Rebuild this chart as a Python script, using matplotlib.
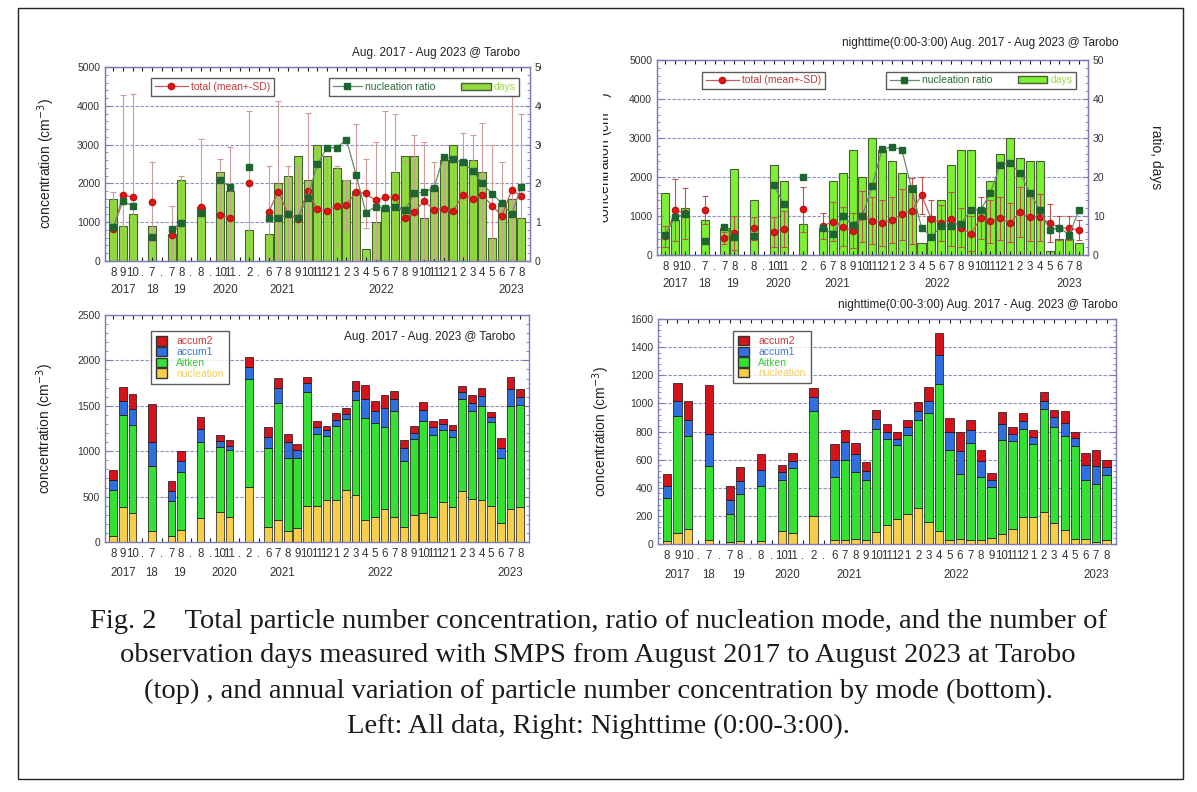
import matplotlib.pyplot as plt
import numpy as np
from matplotlib.patches import Rectangle, Patch
from matplotlib.lines import Line2D
from matplotlib.ticker import MultipleLocator, AutoMinorLocator

plt.rcParams['font.family'] = ['Liberation Sans', 'DejaVu Sans']

nan = np.nan

# x axis: one slot per month, '.' = gap in the record
months = ['8', '9', '10', '.', '7', '.', '7', '8', '.', '8', '.', '10', '11', '.', '2', '.',
          '6', '7', '8', '9', '10', '11', '12', '1', '2', '3', '4', '5', '6', '7', '8', '9', '10', '11', '12',
          '1', '2', '3', '4', '5', '6', '7', '8']
years = ['2017', '18', '19', '2020', '2021', '2022', '2023']
year_slot = [1, 4, 6.8, 11.5, 17.4, 27.6, 41]

# top panels : observation days, nucleation ratio (%), total mean and SD (cm-3)
days_all = [16, 9, 12, nan, 9, nan, 7, 21, nan, 14, nan, 23, 18, nan, 8, nan,
            7, 20, 22, 27, 21, 30, 27, 24, 21, 18, 3, 10, 14, 23, 27, 27, 11, 19, 26, 30, 26, 26, 23, 6, 15, 16, 11]
days_night = [16, 9, 12, nan, 9, nan, 7, 22, nan, 14, nan, 23, 19, nan, 8, nan,
              7, 19, 21, 27, 20, 30, 27, 24, 21, 18, 3, 10, 14, 23, 27, 27, 12, 19, 26, 30, 25, 24, 24, 1, 4, 4, 3]
ratio_all = [8.7, 15.4, 14.2, nan, 6.2, nan, 8.2, 9.8, nan, 12.3, nan, 20.8, 19.2, nan, 24.2, nan,
             11.1, 11.1, 12.0, 11.2, 16.2, 24.9, 29.2, 29.2, 31.3, 22.2, 12.5, 14.0, 13.7, 14.0, 13.1,
             17.4, 17.8, 18.8, 26.8, 26.2, 25.4, 23.2, 20.0, 17.3, 14.9, 12.0, 19.2]
ratio_night = [5.2, 9.7, 10.5, nan, 3.5, nan, 7.1, 4.6, nan, 4.9, nan, 17.9, 13.2, nan, 20.0, nan,
               6.9, 5.3, 9.9, 7.7, 10.1, 17.7, 27.2, 27.7, 27.0, 17.0, 7.0, 4.6, 7.5, 7.4, 8.0,
               11.6, 11.5, 16.0, 23.2, 23.5, 21.0, 16.0, 11.6, 6.4, 7.0, 5.2, 11.6]
mean_all = [820, 1710, 1640, nan, 1530, nan, 680, 990, nan, 1390, nan, 1180, 1120, nan, 2020, nan,
            1270, 1790, 1210, 1080, 1810, 1330, 1280, 1430, 1450, 1780, 1740, 1560, 1640, 1650, 1120,
            1260, 1550, 1320, 1350, 1290, 1710, 1600, 1690, 1430, 1160, 1820, 1680]
sd_all = [960, 2570, 2670, nan, 1010, nan, 740, 1210, nan, 1760, nan, 1450, 1820, nan, 1850, nan,
          1170, 2330, 1250, 1370, 2010, 1570, 1400, 1020, 650, 1760, 890, 1510, 2230, 2130, 1480,
          1990, 1510, 1240, 1250, 1410, 1590, 1660, 1860, 1570, 1400, 2430, 2110]
mean_night = [480, 1150, 1070, nan, 1150, nan, 430, 570, nan, 680, nan, 590, 670, nan, 1170, nan,
              750, 850, 730, 620, 990, 880, 820, 900, 1040, 1130, 1530, 930, 820, 920, 700,
              540, 950, 860, 940, 830, 1100, 970, 970, 820, 690, 690, 640]
sd_night = [270, 790, 650, nan, 360, nan, 150, 430, nan, 300, nan, 380, 460, nan, 570, nan,
            330, 500, 500, 450, 650, 600, 600, 600, 650, 850, 470, 470, 450, 700, 500,
            450, 550, 550, 550, 500, 650, 600, 600, 480, 300, 310, 250]

# bottom panels : concentration by mode (cm-3)
nuc_all = [70, 380, 320, nan, 120, nan, 70, 130, nan, 260, nan, 330, 280, nan, 610, nan,
           160, 240, 120, 150, 400, 400, 460, 460, 570, 520, 240, 270, 360, 270, 160,
           300, 320, 270, 440, 390, 560, 470, 460, 400, 210, 360, 380]
aitken_all = [500, 1020, 970, nan, 720, nan, 380, 640, nan, 840, nan, 720, 730, nan, 1190, nan,
              880, 1290, 810, 770, 1250, 790, 710, 820, 780, 1040, 1130, 1040, 910, 1170, 730,
              830, 1010, 910, 790, 770, 1010, 970, 1040, 920, 710, 1140, 1130]
acc1_all = [110, 150, 170, nan, 260, nan, 110, 120, nan, 150, nan, 60, 50, nan, 130, nan,
            120, 170, 170, 90, 100, 80, 60, 60, 60, 100, 200, 130, 210, 130, 140,
            70, 120, 90, 70, 70, 80, 90, 110, 60, 120, 180, 90]
acc2_all = [110, 160, 170, nan, 420, nan, 110, 110, nan, 130, nan, 70, 60, nan, 110, nan,
            110, 110, 90, 70, 70, 60, 50, 80, 70, 110, 160, 110, 140, 90, 90,
            80, 90, 60, 60, 60, 70, 90, 90, 50, 110, 140, 80]
nuc_night = [20, 80, 105, nan, 30, nan, 15, 20, nan, 20, nan, 95, 80, nan, 200, nan,
             30, 30, 35, 30, 85, 135, 180, 215, 255, 155, 95, 30, 35, 30, 30,
             45, 70, 105, 195, 190, 230, 150, 100, 35, 35, 15, 30]
aitken_night = [310, 830, 660, nan, 525, nan, 200, 335, nan, 390, nan, 360, 460, nan, 745, nan,
                450, 570, 480, 425, 730, 610, 525, 560, 625, 775, 1045, 640, 465, 685, 450,
                360, 670, 625, 620, 520, 730, 680, 665, 665, 420, 415, 460]
acc1_night = [85, 110, 120, nan, 225, nan, 95, 95, nan, 115, nan, 55, 50, nan, 100, nan,
              120, 125, 125, 65, 75, 55, 45, 55, 65, 90, 205, 130, 160, 95, 110,
              50, 110, 50, 60, 50, 60, 70, 95, 55, 105, 125, 60]
acc2_night = [80, 125, 135, nan, 350, nan, 100, 95, nan, 115, nan, 50, 55, nan, 65, nan,
              110, 85, 80, 60, 65, 55, 45, 50, 65, 95, 155, 95, 135, 75, 80,
              50, 90, 55, 55, 50, 60, 55, 85, 40, 90, 110, 50]

W, H = 1197, 792
fig = plt.figure(figsize=(W / 100, H / 100), dpi=100)


def box(l, t, r, b):
    return [l / W, 1 - b / H, (r - l) / W, (b - t) / H]


x = np.arange(len(months))
spine_c = '#7b7bb8'
grid_c = '#8e8ec8'
txt_c = '#333333'


def frame(ax, ymax, ystep, yearpad, labx):
    ax.set_xlim(-0.85, len(months) - 0.1)
    ax.set_ylim(0, ymax)
    ax.yaxis.set_major_locator(MultipleLocator(ystep))
    ax.yaxis.set_minor_locator(AutoMinorLocator(5))
    ax.set_xticks(x)
    ax.set_xticklabels(months, fontsize=8.3, color=txt_c)
    ax.tick_params(axis='x', direction='in', length=3, top=True, pad=4, color='#222222')
    ax.tick_params(axis='y', which='both', direction='in', color=spine_c, labelsize=7.5, labelcolor=txt_c)
    ax.tick_params(axis='y', which='major', length=4)
    ax.tick_params(axis='y', which='minor', length=2)
    for s in ax.spines.values():
        s.set_color(spine_c)
        s.set_linewidth(1.0)
    for lab, p in zip(years, year_slot):
        ax.annotate(lab, xy=(p, 0), xycoords=('data', 'axes fraction'), xytext=(0, -yearpad),
                    textcoords='offset points', ha='center', va='center', fontsize=8.3, color=txt_c)
    ax.set_ylabel('concentration (cm$^{-3}$)', fontsize=10, color='#222222')
    ax.yaxis.set_label_coords(labx, 0.5)


def top_panel(pos, days, ratio, mean, sd, bar_c, err_c, title, tx, ty, leg1, leg2, labx):
    ax = fig.add_axes(pos)
    ax2 = ax.twinx()
    frame(ax, 5000, 1000, 21, labx)
    ax2.set_ylim(0, 50)
    ax2.yaxis.set_major_locator(MultipleLocator(10))
    ax2.yaxis.set_minor_locator(AutoMinorLocator(5))
    ax2.tick_params(axis='y', which='both', direction='in', color=spine_c, labelsize=7.5, labelcolor=txt_c)
    ax2.tick_params(axis='y', which='minor', length=2)
    for s in ax2.spines.values():
        s.set_color(spine_c)
    ax2.set_axisbelow(True)
    ax2.yaxis.grid(True, color=grid_c, linestyle=(0, (3, 1.5)), linewidth=0.8)
    ax2.bar(x, days, width=0.82, color=bar_c, edgecolor='#4d5e3a', linewidth=0.8, zorder=2)
    # mean +- SD drawn over the day bars
    ax.set_zorder(ax2.get_zorder() + 1)
    ax.patch.set_visible(False)
    ax.errorbar(x, mean, yerr=sd, fmt='none', ecolor=err_c, elinewidth=0.8, capsize=2.2, capthick=0.8, zorder=3)
    ax.plot(x, mean, '-o', color='#c85a5a', mfc='#e01515', mec='#c01010', ms=4.5, lw=0.9, zorder=5)
    # ratio on its own top layer (same 0-50 scale as the right axis)
    ax3 = ax.twinx()
    ax3.set_ylim(0, 50)
    ax3.set_zorder(ax.get_zorder() + 1)
    ax3.patch.set_visible(False)
    ax3.axis('off')
    ax3.plot(x, ratio, '-s', color='#6b8a6b', mfc='#1d6630', mec='#1d6630', ms=4.5, lw=0.9, zorder=4)
    ax.text(tx, ty, title, transform=ax.transAxes, ha='right', va='center', fontsize=8.5, color='#222222')
    h1 = [Line2D([], [], color='#c85a5a', marker='o', mfc='#e01515', mec='#c01010', ms=4.5, lw=0.9)]
    l1 = ax3.legend(h1, ['total (mean+-SD)'], loc='center', bbox_to_anchor=leg1, fontsize=7.5,
                    frameon=True, fancybox=False, edgecolor='#333333', handlelength=3.2, borderpad=0.35,
                    handletextpad=0.3, borderaxespad=0)
    l1.get_frame().set_linewidth(1.0)
    l1.get_texts()[0].set_color('#c03a3a')
    ax3.add_artist(l1)
    h2 = [Line2D([], [], color='#6b8a6b', marker='s', mfc='#1d6630', mec='#1d6630', ms=4.5, lw=0.9),
          Patch(facecolor=bar_c, edgecolor='#4d5e3a')]
    l2 = ax3.legend(h2, ['nucleation ratio', 'days'], loc='center', bbox_to_anchor=leg2, fontsize=7.5, ncol=2,
                    frameon=True, fancybox=False, edgecolor='#333333', handlelength=2.8, borderpad=0.35,
                    handletextpad=0.3, columnspacing=2.5, borderaxespad=0)
    l2.get_frame().set_linewidth(1.0)
    l2.get_texts()[0].set_color('#2a6a3a')
    l2.get_texts()[1].set_color('#9ad94a')
    return ax, ax2


def bottom_panel(pos, nuc, ait, acc1, acc2, ymax, ystep, title, tx, ty, leg, labx):
    ax = fig.add_axes(pos)
    frame(ax, ymax, ystep, 22, labx)
    ax.set_axisbelow(True)
    ax.yaxis.grid(True, color=grid_c, linestyle=(0, (3, 1.5)), linewidth=0.8)
    ax.tick_params(axis='y', which='both', right=True)
    b = np.zeros(len(months))
    for vals, c in zip([nuc, ait, acc1, acc2], ['#f7cd4c', '#34e033', '#2f6fe0', '#d3141c']):
        v = np.array(vals, dtype=float)
        ax.bar(x, v, bottom=b, width=0.8, color=c, edgecolor='#111111', linewidth=0.5, zorder=2)
        b = b + np.nan_to_num(v)
    ax.text(tx, ty, title, transform=ax.transAxes, ha='right', va='center', fontsize=8.5, color='#222222')
    h = [Patch(facecolor='#d3141c', edgecolor='#333333'), Patch(facecolor='#2f6fe0', edgecolor='#333333'),
         Patch(facecolor='#34e033', edgecolor='#333333'), Patch(facecolor='#f7cd4c', edgecolor='#333333')]
    lg = ax.legend(h, ['accum2', 'accum1', 'Aitken', 'nucleation'], loc='center', bbox_to_anchor=leg,
                   fontsize=7.5, frameon=True, fancybox=False, edgecolor='#333333', handlelength=1.0,
                   handleheight=1.0, labelspacing=0.05, borderpad=0.5, handletextpad=0.9, borderaxespad=0)
    lg.get_frame().set_linewidth(1.0)
    for t, c in zip(lg.get_texts(), ['#c83a3a', '#3a78dc', '#33cc33', '#f2cf5a']):
        t.set_color(c)
    return ax


top_panel(box(105, 67, 530, 261), days_all, ratio_all, mean_all, sd_all, '#8fdc3e', '#cf9a9a',
          'Aug. 2017 - Aug 2023 @ Tarobo', 0.976, 1.074, (0.253, 0.897), (0.751, 0.897), -0.112)
ax_tr, ax_tr2 = top_panel(box(657, 60, 1088, 255), days_night, ratio_night, mean_night, sd_night,
                          '#7cf034', '#c0504a', 'nighttime(0:00-3:00) Aug. 2017 - Aug 2023 @ Tarobo',
                          1.07, 1.087, (0.247, 0.895), (0.752, 0.895), -0.095)
ax_tr2.set_ylabel('ratio, days', rotation=270, fontsize=10, color='#222222')
ax_tr2.yaxis.set_label_coords(1.175, 0.5)

bottom_panel(box(105, 315, 529, 542), nuc_all, aitken_all, acc1_all, acc2_all, 2500, 500,
             'Aug. 2017 - Aug. 2023 @ Tarobo', 0.967, 0.903, (0.2, 0.813), -0.115)
bottom_panel(box(658, 319, 1116, 544), nuc_night, aitken_night, acc1_night, acc2_night, 1600, 200,
             'nighttime(0:00-3:00) Aug. 2017 - Aug. 2023 @ Tarobo', 1.004, 1.062, (0.249, 0.831), -0.1)

# the source figure crops the right axis of the top-left panel
fig.add_artist(Rectangle((541 / W, 1 - 300 / H), (603 - 541) / W, 265 / H, transform=fig.transFigure,
                         facecolor='white', edgecolor='none', zorder=10))

caption = ['Fig. 2    Total particle number concentration, ratio of nucleation mode, and the number of',
           'observation days measured with SMPS from August 2017 to August 2023 at Tarobo',
           '(top) , and annual variation of particle number concentration by mode (bottom).',
           'Left: All data, Right: Nighttime (0:00-3:00).']
for i, line in enumerate(caption):
    fig.text(598 / W, 1 - (621 + 35 * i) / H, line, ha='center', va='center', fontsize=20.5,
             family=['Liberation Serif', 'DejaVu Serif'], color='#1a1a1a')

fig.add_artist(Rectangle((18 / W, 1 - 779 / H), (1183 - 18) / W, (779 - 8) / H, transform=fig.transFigure,
                         facecolor='none', edgecolor='#222222', linewidth=1.0))

fig.savefig('out.png', dpi=100)
